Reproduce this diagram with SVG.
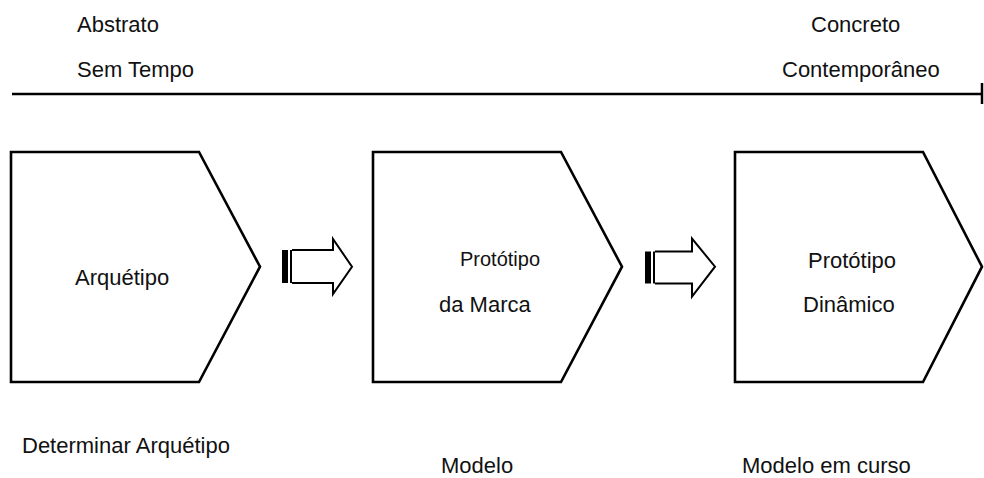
<svg xmlns="http://www.w3.org/2000/svg" width="984" height="478" viewBox="0 0 984 478">
<style>
text{font-family:"Liberation Sans",Arial,sans-serif;font-size:22px;fill:#111}
.shape{fill:#fff;stroke:#000;stroke-width:2.6;stroke-linejoin:miter}
.barrow{fill:#fff;stroke:#000;stroke-width:2}
.line{stroke:#000;stroke-width:2.5;fill:none}
</style>
<rect width="984" height="478" fill="#fff"/>
<g id="labels-top">
<text x="77" y="32">Abstrato</text>
<text x="77" y="77">Sem Tempo</text>
<text x="811" y="32">Concreto</text>
<text x="782" y="77">Contemporâneo</text>
</g>
<g id="connectors">
<line class="line" x1="12" y1="94" x2="982" y2="94"/>
<line class="line" x1="982" y1="83" x2="982" y2="104"/>
<g id="arrow1">
<rect x="282" y="250" width="6" height="33" fill="#000"/>
<rect x="290" y="250" width="2.5" height="33" fill="#000"/>
<path class="barrow" d="M292,250 H333 V239 L352,266.7 L333,294 V283 H292"/>
</g>
<g id="arrow2">
<rect x="645" y="251.5" width="6" height="32" fill="#000"/>
<rect x="653" y="251.5" width="2.5" height="32" fill="#000"/>
<path class="barrow" d="M655,251.5 H692 V238.5 L715,266.7 L692,296.5 V283.5 H655"/>
</g>
</g>
<g id="node-arquetipo">
<polygon class="shape" points="11,152 199,152 260,266.7 199,382 11,382"/>
<text x="75" y="285">Arquétipo</text>
</g>
<g id="node-prototipo-marca">
<polygon class="shape" points="373,152 561,152 622,266.7 561,382 373,382"/>
<text x="460" y="266" style="font-size:20px">Protótipo</text>
<text x="439" y="312">da Marca</text>
</g>
<g id="node-prototipo-dinamico">
<polygon class="shape" points="735,152 923,152 982,266.7 923,382 735,382"/>
<text x="808" y="268">Protótipo</text>
<text x="803" y="312">Dinâmico</text>
</g>
<g id="labels-bottom">
<text x="22" y="453">Determinar Arquétipo</text>
<text x="441" y="473">Modelo</text>
<text x="742" y="473">Modelo em curso</text>
</g>
</svg>
